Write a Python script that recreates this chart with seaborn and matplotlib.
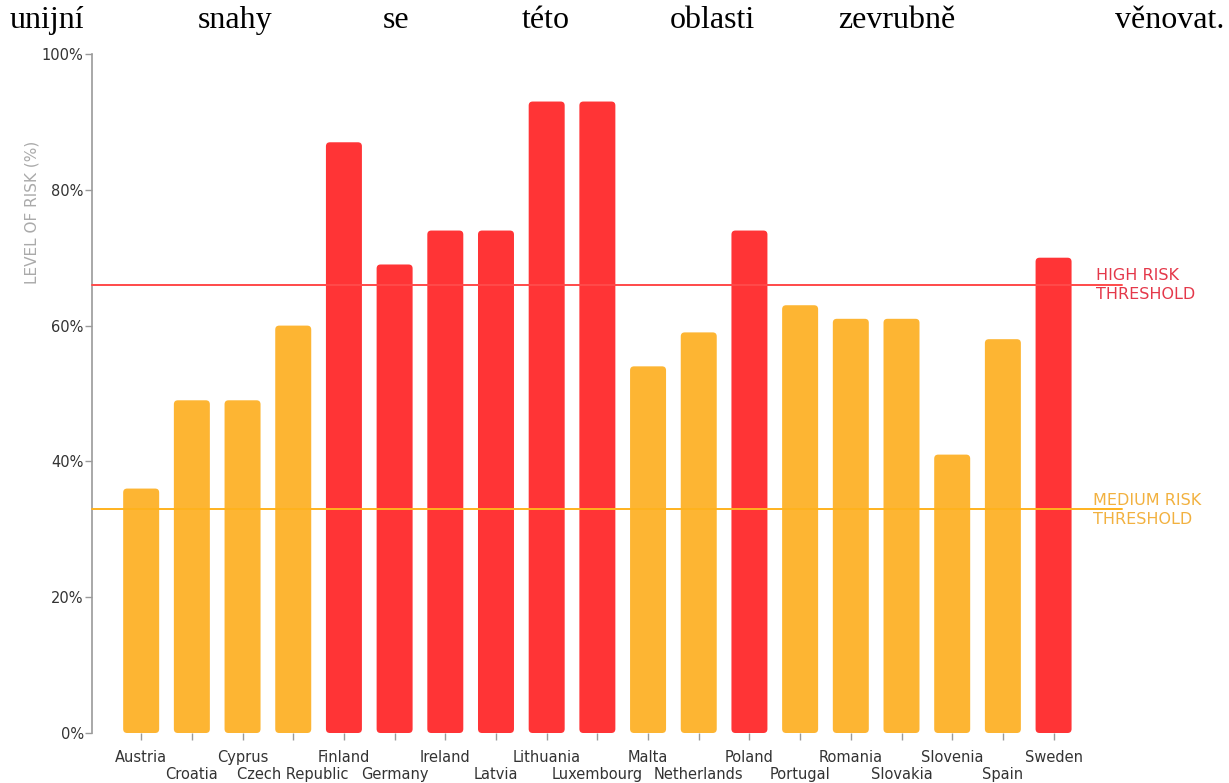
import matplotlib
matplotlib.use("Agg")
import matplotlib.pyplot as plt
import seaborn as sns
import pandas as pd
from matplotlib.patches import FancyBboxPatch
from matplotlib.ticker import FuncFormatter, FixedLocator, FixedFormatter

countries = ["Austria", "Croatia", "Cyprus", "Czech Republic", "Finland", "Germany",
             "Ireland", "Latvia", "Lithuania", "Luxembourg", "Malta", "Netherlands",
             "Poland", "Portugal", "Romania", "Slovakia", "Slovenia", "Spain", "Sweden"]
risk = [36, 49, 49, 60, 87, 69, 74, 74, 93, 93, 54, 59, 74, 63, 61, 61, 41, 58, 70]
high_threshold = 66
medium_threshold = 33
y_ticks = [0, 20, 40, 60, 80, 100]
heading_words = ["unijní", "snahy", "se", "této", "oblasti", "zevrubně", "věnovat."]

ORANGE = "#FDB533"
RED = "#FF3436"

sns.set_theme(style="white")
plt.rcParams["font.family"] = ["DejaVu Sans"]

df = pd.DataFrame({"country": countries, "risk": risk})
df["level"] = ["high" if v >= high_threshold else "medium" for v in df["risk"]]

fig = plt.figure(figsize=(12.29, 7.83), dpi=100)
W, H = 1229, 783
ax = fig.add_axes([92 / W, 50 / H, (1122 - 92) / W, 679 / H])

sns.barplot(data=df, x="country", y="risk", hue="level",
            palette={"high": RED, "medium": ORANGE}, dodge=False,
            width=0.71, legend=False, ax=ax, saturation=1)

ax.set_xlim(-0.97, 19.35)
ax.set_ylim(0, 100)

# rounded bars
xpx = (1122 - 92) / (19.35 + 0.97)
ypx = 679 / 100
aspect = xpx / ypx
for p in list(ax.patches):
    x, y = p.get_x(), p.get_y()
    w, h = p.get_width(), p.get_height()
    fc = p.get_facecolor()
    p.remove()
    ax.add_patch(FancyBboxPatch((x, y), w, h,
                                boxstyle=f"round,pad=0,rounding_size={4 / xpx}",
                                mutation_aspect=aspect, facecolor=fc,
                                edgecolor="none", zorder=2))

# thresholds
ax.axhline(high_threshold, color="#FF4A4A", lw=1.4, zorder=3, clip_on=False)
ax.axhline(medium_threshold, color="#FFB21E", lw=1.4, zorder=3, clip_on=False)
fig.text(1096 / W, 1 - 285 / H, "HIGH RISK\nTHRESHOLD", color="#E4384A",
         fontsize=11.5, va="center", ha="left", linespacing=1.4)
fig.text(1093 / W, 1 - 510 / H, "MEDIUM RISK\nTHRESHOLD", color="#F2B13F",
         fontsize=11.5, va="center", ha="left", linespacing=1.4)

# axes styling
for s in ["top", "right", "bottom"]:
    ax.spines[s].set_visible(False)
ax.spines["left"].set_color("#9a9a9a")
ax.spines["left"].set_linewidth(1.2)

ax.set_yticks(y_ticks)
ax.yaxis.set_major_formatter(FuncFormatter(lambda v, _: f"{int(v)}%"))
ax.tick_params(axis="y", direction="out", length=5, width=1, color="#9a9a9a",
               labelsize=10.5, labelcolor="#333333", pad=1, left=True)

# staggered category labels: even positions on major ticks, odd on minor ticks
even = list(range(0, len(countries), 2))
odd = list(range(1, len(countries), 2))
ax.xaxis.set_major_locator(FixedLocator(even))
ax.xaxis.set_major_formatter(FixedFormatter([countries[i] for i in even]))
ax.xaxis.set_minor_locator(FixedLocator(odd))
ax.xaxis.set_minor_formatter(FixedFormatter([countries[i] for i in odd]))
ax.tick_params(axis="x", which="both", direction="out", length=5, width=1,
               color="#9a9a9a", labelsize=10.5, labelcolor="#333333", bottom=True)
ax.tick_params(axis="x", which="major", pad=7.5)
ax.tick_params(axis="x", which="minor", pad=19.5)
ax.set_xlabel("")
ax.set_ylabel("")

fig.text(32 / W, 1 - 212 / H, "LEVEL OF RISK (%)", rotation=90, color="#aaaaaa",
         fontsize=11, ha="center", va="center")

# heading text (justified)
word_x = [10, 198, 383, 522, 670, 838, 1115]
for wx, word in zip(word_x, heading_words):
    fig.text(wx / W, 1 - 28 / H, word, fontsize=23, family="Liberation Serif",
             color="black", ha="left", va="baseline")

fig.savefig("out.png", dpi=100)
